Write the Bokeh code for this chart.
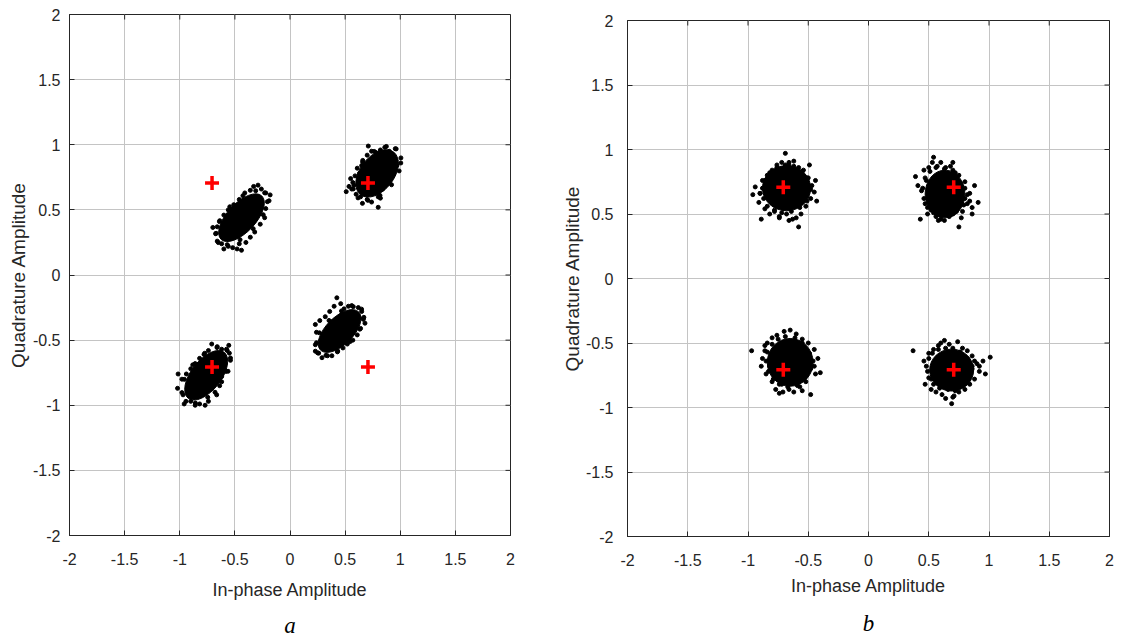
import math
from bokeh.plotting import figure
from bokeh.layouts import row, column
from bokeh.models import FixedTicker, Title, Spacer
from bokeh.embed import file_html
from bokeh.resources import INLINE

# ---------------- data ----------------
tick_values = [-2, -1.5, -1, -0.5, 0, 0.5, 1, 1.5, 2]
tick_labels = ["-2", "-1.5", "-1", "-0.5", "0", "0.5", "1", "1.5", "2"]

# ideal QPSK reference points (red crosses)
ref_i = [0.7071, -0.7071, -0.7071, 0.7071]
ref_q = [0.7071, 0.7071, -0.7071, -0.7071]

# panel a: dense cores of the four received clusters (center, extent, tilt in degrees)
a_core_x = [0.79, -0.44, 0.45, -0.76]
a_core_y = [0.78, 0.44, -0.43, -0.77]
a_core_w = [0.49, 0.54, 0.49, 0.53]
a_core_h = [0.26, 0.22, 0.21, 0.23]
a_core_deg = [52, 47, 45, 52]

# panel a: scattered received symbols around the cores
a_pts = [
    # cluster near (+0.79, +0.78)
    (0.51,0.64),(0.535,0.68),(0.55,0.74),(0.56,0.66),(0.60,0.62),(0.62,0.70),(0.58,0.69),(0.64,0.60),
    (0.657,0.55),(0.70,0.58),(0.74,0.56),(0.80,0.52),(0.82,0.59),(0.72,0.63),(0.80,0.60),(0.84,0.66),
    (0.88,0.70),(0.90,0.74),(0.94,0.78),(0.97,0.84),(1.005,0.86),(0.96,0.88),(0.955,0.97),(0.90,0.95),
    (0.86,0.98),(0.82,0.96),(0.78,0.94),(0.74,0.95),(0.71,0.99),(0.70,0.92),(0.66,0.88),(0.65,0.84),
    (0.63,0.78),(0.61,0.82),(0.68,0.76),(0.76,0.72),(0.84,0.82),(0.80,0.88),(0.72,0.68),(0.88,0.86),
    (0.92,0.82),(0.57,0.71),
    (0.963,0.968),(0.874,0.987),(0.764,0.949),(0.659,0.867),(0.59,0.761),(0.574,0.661),(0.617,0.592),
    (0.706,0.573),(0.816,0.611),(0.921,0.693),(0.99,0.799),(1.006,0.899),
    # cluster near (-0.44, +0.44)
    (-0.70,0.365),(-0.67,0.32),(-0.66,0.26),(-0.62,0.24),(-0.60,0.20),(-0.56,0.22),(-0.52,0.21),(-0.48,0.20),
    (-0.44,0.19),(-0.46,0.24),(-0.40,0.25),(-0.36,0.29),(-0.32,0.33),(-0.27,0.39),(-0.23,0.44),(-0.22,0.51),
    (-0.19,0.57),(-0.18,0.615),(-0.22,0.63),(-0.26,0.66),(-0.29,0.69),(-0.33,0.68),(-0.36,0.65),(-0.41,0.63),
    (-0.46,0.58),(-0.51,0.54),(-0.56,0.50),(-0.60,0.46),(-0.64,0.41),(-0.66,0.37),(-0.62,0.34),(-0.54,0.42),
    (-0.42,0.52),(-0.35,0.58),(-0.30,0.52),(-0.26,0.57),(-0.50,0.30),(-0.38,0.38),(-0.57,0.30),
    (-0.23,0.631),(-0.311,0.647),(-0.427,0.609),(-0.546,0.524),(-0.637,0.417),(-0.675,0.317),(-0.65,0.249),
    (-0.569,0.233),(-0.453,0.271),(-0.334,0.356),(-0.243,0.463),(-0.205,0.563),
    # cluster near (+0.45, -0.43)
    (0.425,-0.175),(0.46,-0.22),(0.40,-0.24),(0.36,-0.28),(0.32,-0.32),(0.27,-0.35),(0.23,-0.38),(0.24,-0.44),
    (0.24,-0.52),(0.23,-0.585),(0.26,-0.60),(0.29,-0.635),(0.34,-0.62),(0.38,-0.62),(0.43,-0.59),(0.48,-0.56),
    (0.52,-0.53),(0.57,-0.50),(0.61,-0.46),(0.64,-0.41),(0.68,-0.37),(0.665,-0.34),(0.65,-0.28),(0.62,-0.25),
    (0.56,-0.235),(0.53,-0.24),(0.49,-0.26),(0.30,-0.46),(0.34,-0.55),(0.42,-0.51),(0.54,-0.37),(0.60,-0.32),
    (0.38,-0.36),(0.47,-0.30),(0.28,-0.50),(0.63,-0.33),
    (0.649,-0.262),(0.574,-0.243),(0.467,-0.276),(0.354,-0.349),(0.267,-0.444),(0.23,-0.535),
    (0.251,-0.598),(0.326,-0.617),(0.433,-0.584),(0.546,-0.511),(0.633,-0.416),(0.67,-0.325),
    # cluster near (-0.76, -0.77)
    (-1.015,-0.76),(-1.02,-0.87),(-0.98,-0.80),(-0.97,-0.92),(-0.96,-0.99),(-0.90,-0.97),(-0.86,-1.00),(-0.82,-0.99),
    (-0.77,-1.00),(-0.74,-0.97),(-0.665,-0.92),(-0.68,-0.90),(-0.62,-0.82),(-0.62,-0.78),(-0.58,-0.74),(-0.54,-0.655),
    (-0.55,-0.60),(-0.555,-0.54),(-0.57,-0.58),(-0.62,-0.57),(-0.66,-0.55),(-0.71,-0.53),(-0.74,-0.58),(-0.78,-0.61),
    (-0.82,-0.64),(-0.86,-0.68),(-0.90,-0.72),(-0.94,-0.76),(-0.92,-0.86),(-0.88,-0.90),(-0.80,-0.88),(-0.72,-0.70),
    (-0.66,-0.64),(-0.84,-0.78),(-0.76,-0.85),(-0.60,-0.67),
    (-0.576,-0.57),(-0.662,-0.557),(-0.774,-0.601),(-0.882,-0.69),(-0.958,-0.801),(-0.98,-0.903),
    (-0.944,-0.97),(-0.858,-0.983),(-0.746,-0.939),(-0.638,-0.85),(-0.562,-0.739),(-0.54,-0.637),
]

# panel b: dense cores of the four received clusters
b_core_x = [-0.68, 0.635, -0.65, 0.69]
b_core_y = [0.70, 0.655, -0.65, -0.71]
b_core_w = [0.40, 0.33, 0.38, 0.365]
b_core_h = [0.35, 0.37, 0.37, 0.325]
b_core_deg = [0, 0, 0, 0]

b_pts = [
    # cluster near (-0.68, +0.70)
    (-0.96,0.65),(-0.94,0.71),(-0.91,0.59),(-0.89,0.46),(-0.88,0.76),(-0.86,0.54),(-0.84,0.80),(-0.82,0.50),
    (-0.80,0.84),(-0.78,0.52),(-0.76,0.88),(-0.74,0.48),(-0.72,0.90),(-0.69,0.97),(-0.68,0.50),(-0.66,0.88),
    (-0.63,0.46),(-0.62,0.91),(-0.58,0.40),(-0.58,0.86),(-0.56,0.50),(-0.54,0.84),(-0.52,0.56),(-0.51,0.78),
    (-0.49,0.88),(-0.48,0.62),(-0.47,0.72),(-0.45,0.67),(-0.43,0.60),(-0.44,0.76),(-0.70,0.55),(-0.84,0.68),
    (-0.60,0.60),(-0.76,0.62),(-0.90,0.66),(-0.66,0.45),
    (-0.88,0.70),(-0.87,0.62),(-0.86,0.76),(-0.84,0.56),(-0.82,0.82),(-0.78,0.53),(-0.76,0.86),(-0.72,0.51),
    (-0.69,0.88),(-0.64,0.52),(-0.62,0.87),(-0.57,0.55),(-0.55,0.83),(-0.51,0.60),(-0.50,0.78),(-0.48,0.69),
    (-0.90,0.66),(-0.60,0.47),(-0.74,0.47),(-0.66,0.90),
    # cluster near (+0.635, +0.655)
    (0.39,0.79),(0.41,0.72),(0.43,0.46),(0.44,0.68),(0.46,0.84),(0.47,0.58),(0.49,0.50),(0.50,0.86),
    (0.52,0.53),(0.53,0.90),(0.54,0.94),(0.56,0.48),(0.57,0.87),(0.60,0.46),(0.60,0.90),(0.63,0.45),
    (0.64,0.86),(0.67,0.48),(0.68,0.87),(0.70,0.50),(0.72,0.82),(0.75,0.40),(0.74,0.55),(0.76,0.74),
    (0.78,0.52),(0.80,0.70),(0.82,0.58),(0.84,0.66),(0.86,0.55),(0.88,0.72),(0.91,0.59),(0.86,0.50),
    (0.80,0.62),(0.48,0.76),(0.55,0.62),(0.72,0.62),
    (0.45,0.70),(0.46,0.62),(0.47,0.78),(0.49,0.55),(0.51,0.83),(0.54,0.51),(0.56,0.86),(0.60,0.49),
    (0.63,0.85),(0.66,0.50),(0.70,0.84),(0.73,0.52),(0.75,0.80),(0.79,0.57),(0.80,0.75),(0.82,0.65),
    (0.84,0.60),(0.77,0.47),(0.58,0.45),(0.70,0.90),
    # cluster near (-0.65, -0.65)
    (-0.97,-0.56),(-0.89,-0.68),(-0.86,-0.56),(-0.84,-0.50),(-0.85,-0.74),(-0.80,-0.46),(-0.80,-0.80),(-0.76,-0.44),
    (-0.74,-0.89),(-0.72,-0.82),(-0.70,-0.41),(-0.66,-0.86),(-0.65,-0.40),(-0.62,-0.88),(-0.60,-0.43),(-0.57,-0.84),
    (-0.55,-0.47),(-0.52,-0.80),(-0.50,-0.50),(-0.48,-0.90),(-0.45,-0.55),(-0.44,-0.74),(-0.42,-0.62),(-0.40,-0.73),
    (-0.45,-0.68),(-0.88,-0.62),(-0.82,-0.68),(-0.70,-0.76),(-0.56,-0.70),(-0.60,-0.56),(-0.78,-0.56),(-0.52,-0.64),
    (-0.68,-0.52),(-0.64,-0.80),
    (-0.85,-0.64),(-0.84,-0.57),(-0.83,-0.72),(-0.80,-0.51),(-0.79,-0.78),(-0.75,-0.47),(-0.74,-0.82),(-0.69,-0.45),
    (-0.67,-0.84),(-0.61,-0.46),(-0.59,-0.83),(-0.55,-0.50),(-0.53,-0.77),(-0.49,-0.58),(-0.48,-0.70),(-0.46,-0.64),
    (-0.77,-0.86),(-0.86,-0.52),(-0.55,-0.87),(-0.71,-0.88),
    # cluster near (+0.69, -0.71)
    (0.37,-0.56),(0.46,-0.64),(0.47,-0.82),(0.49,-0.72),(0.50,-0.58),(0.52,-0.86),(0.54,-0.55),(0.56,-0.88),
    (0.58,-0.52),(0.61,-0.90),(0.63,-0.48),(0.64,-0.93),(0.67,-0.51),(0.69,-0.97),(0.71,-0.91),(0.74,-0.49),
    (0.75,-0.88),(0.78,-0.54),(0.80,-0.86),(0.82,-0.56),(0.84,-0.82),(0.86,-0.60),(0.88,-0.78),(0.90,-0.66),
    (0.92,-0.72),(0.95,-0.64),(1.01,-0.61),(0.97,-0.74),(0.56,-0.70),(0.62,-0.62),(0.74,-0.64),(0.80,-0.76),
    (0.66,-0.80),(0.86,-0.68),(0.52,-0.78),
    (0.48,-0.68),(0.50,-0.62),(0.50,-0.77),(0.53,-0.58),(0.54,-0.82),(0.58,-0.55),(0.59,-0.85),(0.64,-0.54),
    (0.66,-0.86),(0.70,-0.54),(0.72,-0.87),(0.76,-0.57),(0.78,-0.83),(0.82,-0.62),(0.83,-0.78),(0.86,-0.70),
    (0.88,-0.64),(0.70,-0.92),(0.60,-0.50),(0.92,-0.68),
]

x_label = "In-phase Amplitude"
y_label = "Quadrature Amplitude"

FONT = "Liberation Sans"
AX_COLOR = "#262626"


def style_axis(ax, label_standoff, title_standoff, label_size):
    ax.ticker = FixedTicker(ticks=tick_values)
    ax.major_label_overrides = {float(v): s for v, s in zip(tick_values, tick_labels)}
    ax.major_tick_in = 5
    ax.major_tick_out = 0
    ax.minor_tick_in = 0
    ax.minor_tick_out = 0
    ax.axis_line_color = AX_COLOR
    ax.major_tick_line_color = AX_COLOR
    ax.major_label_text_font = FONT
    ax.major_label_text_color = AX_COLOR
    ax.major_label_text_font_size = "16px"
    ax.major_label_standoff = label_standoff
    ax.axis_label_text_font = FONT
    ax.axis_label_text_font_style = "normal"
    ax.axis_label_text_color = AX_COLOR
    ax.axis_label_text_font_size = label_size
    ax.axis_label_standoff = title_standoff


def make_panel(pts, cx, cy, cw, ch, cdeg, letter, fw, fh, left, right, top,
               x_std, x_lab_std, y_std, y_lab_std, letter_std):
    p = figure(frame_width=fw, frame_height=fh, x_range=(-2, 2), y_range=(-2, 2),
               output_backend="svg", toolbar_location=None,
               min_border_left=left, min_border_right=right,
               min_border_top=top, min_border_bottom=10)
    p.background_fill_color = "white"
    p.border_fill_color = "white"
    p.outline_line_color = AX_COLOR
    p.outline_line_alpha = 1
    p.grid.ticker = FixedTicker(ticks=tick_values)
    p.grid.grid_line_color = "#c4c4c4"
    p.grid.grid_line_width = 1

    style_axis(p.xaxis[0], x_std, x_lab_std, "18px")
    style_axis(p.yaxis[0], y_std, y_lab_std, "19px")
    p.xaxis[0].axis_label = x_label
    p.yaxis[0].axis_label = y_label

    # inward ticks on the top and right edges of the box
    n = len(tick_values)
    p.ray(x=tick_values, y=[tick_values[-1]] * n, length=5, length_units="screen",
          angle=-math.pi / 2, line_color=AX_COLOR, line_width=1)
    p.ray(x=[tick_values[-1]] * n, y=tick_values, length=5, length_units="screen",
          angle=math.pi, line_color=AX_COLOR, line_width=1)

    p.ellipse(x=cx, y=cy, width=cw, height=ch,
              angle=[math.radians(d) for d in cdeg],
              fill_color="black", line_color="black")
    xs = [q[0] for q in pts]
    ys = [q[1] for q in pts]
    p.scatter(xs, ys, marker="circle", size=4, fill_color="black", line_color="black")
    p.scatter(ref_i, ref_q, marker="cross", size=14, line_color="#ff0000", line_width=3.5)

    t = Title(text=letter, align="center", text_font="Liberation Serif",
              text_font_style="italic", text_font_size="23px", text_color="black",
              standoff=letter_std)
    p.add_layout(t, "below")
    return p


pa = make_panel(a_pts, a_core_x, a_core_y, a_core_w, a_core_h, a_core_deg, "a",
                441, 521, 69, 48, 14,
                x_std=17, x_lab_std=12, y_std=9, y_lab_std=1, letter_std=16)
pb = make_panel(b_pts, b_core_x, b_core_y, b_core_w, b_core_h, b_core_deg, "b",
                482, 516, 69, 12, 14,
                x_std=17, x_lab_std=7, y_std=14, y_lab_std=0, letter_std=21)

layout = row(pa, column(Spacer(height=6), pb))
open("out.html", "w").write(file_html(layout, INLINE))
